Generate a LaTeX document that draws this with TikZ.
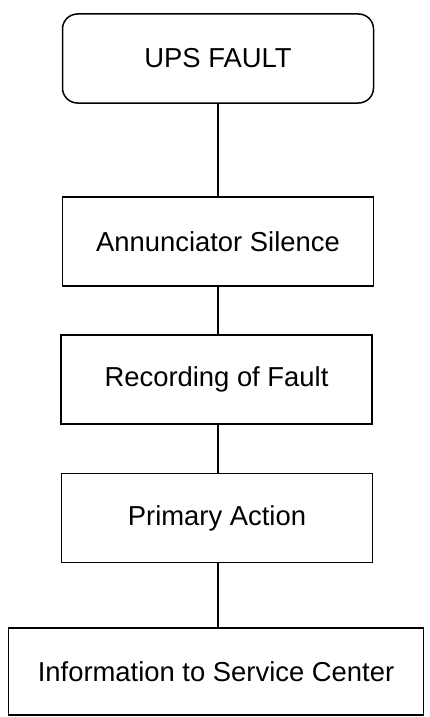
\documentclass[tikz,border=0pt]{standalone}
\usepackage{fontspec}
\setmainfont{Liberation Sans}
\usetikzlibrary{calc}

\begin{document}
\begin{tikzpicture}[x=1pt,y=-1pt,line width=1.5pt,
        stage/.style={draw,rectangle,minimum width=311pt,minimum height=89pt,
            font=\fontsize{27.4}{33}\selectfont,inner sep=0pt},
        startbox/.style={stage,rounded corners=15pt}]
                        \useasboundingbox (0,0) rectangle (429,717);
                        \node[startbox] (ups) at (218,58.5) {UPS FAULT};
                        \node[stage] (annun) at (218,241.5) {Annunciator Silence};
                        \node[stage] (record) at (216.5,379.5) {Recording of Fault};
                        \node[stage] (primary) at (217,518) {Primary Action};
                        \node[stage,minimum width=415pt,minimum height=87pt] (info) at (216,671.5)
                            {Information to Service Center};
                        \draw (ups.south) -- (ups.south |- annun.north);
                        \draw (ups.south |- annun.south) -- (ups.south |- record.north);
                        \draw (ups.south |- record.south) -- (ups.south |- primary.north);
                        \draw (ups.south |- primary.south) -- (ups.south |- info.north);
                    \end{tikzpicture}
\end{document}
